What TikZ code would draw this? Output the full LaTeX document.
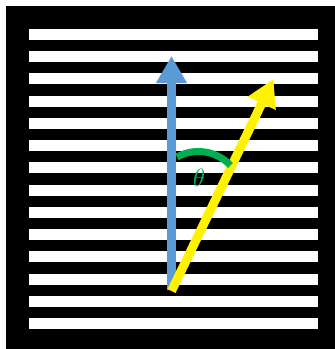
\documentclass[tikz,border=0pt]{standalone}
\usetikzlibrary{arrows.meta}
\definecolor{arrowblue}{HTML}{5B9BD5}
\definecolor{arcgreen}{HTML}{00B050}
\begin{document}
\begin{tikzpicture}[x=1pt,y=-1pt,
  stripe/.style={fill=white},
  bigarrow/.style={line width=9pt,line cap=butt,-{Triangle[length=27pt,width=29pt]}}]
\useasboundingbox (0,0) rectangle (335,349);
\fill[white] (0,0) rectangle (335,349);
\fill[black] (6,6) rectangle (335,349);
\foreach \k in {0,...,13}{
  \fill[stripe] (29,{29+\k*22.23}) rectangle (318,{40+\k*22.23});
}
\coordinate (base) at (171.5,290);
\coordinate (bluetip) at (171.5,56);
\coordinate (ybase) at (171.5,291);
\coordinate (ytip) at (273.5,79);
\draw[bigarrow,arrowblue] (base) -- (bluetip);
\draw[bigarrow,yellow] (ybase) -- (ytip);
\coordinate (arcc) at (198.3,195.5);
\draw[arcgreen,line width=7pt] ([shift={(-119:44)}]arcc) arc[start angle=-119,end angle=-43,radius=44];
\node[text=arcgreen,inner sep=0pt] (theta) at (199,177.5) {\scalebox{2.5}{$\theta$}};
\end{tikzpicture}
\end{document}
